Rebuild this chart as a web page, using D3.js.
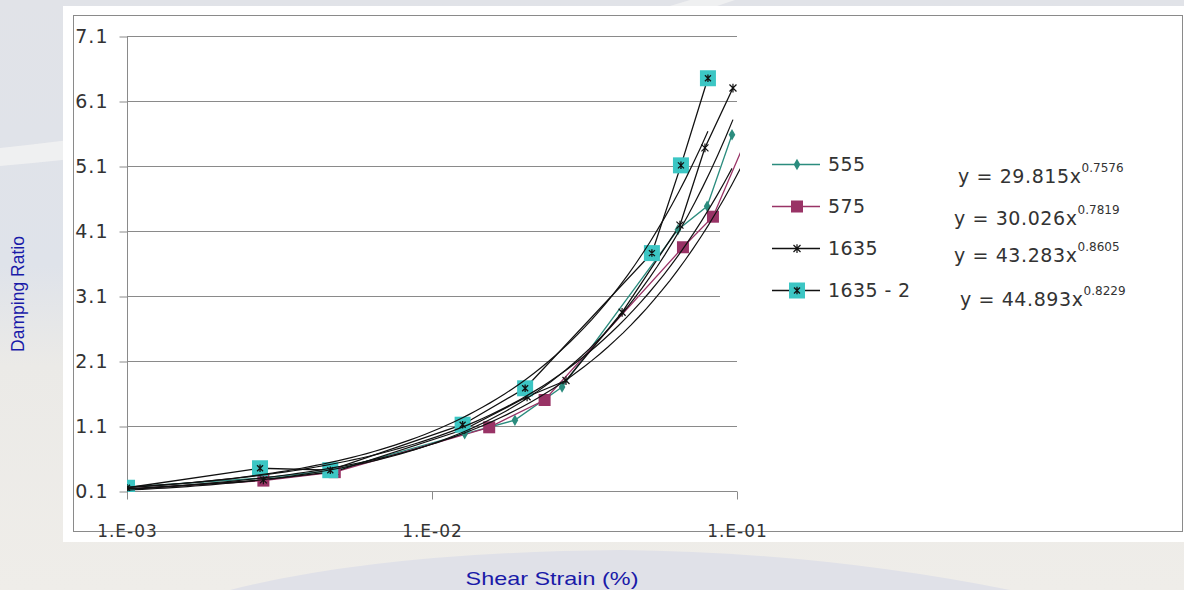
<!DOCTYPE html>
<html>
<head>
<meta charset="utf-8">
<script src="https://cdn.jsdelivr.net/npm/d3@7/dist/d3.min.js"></script>
<style>
  body { margin: 0; overflow: hidden; background: #e4e6eb; }
  svg { display: block; }
  .tick text { font-family: "DejaVu Sans", Verdana, sans-serif; fill: #333; }
</style>
</head>
<body>
<svg id="chart" width="1184" height="590"></svg>
<script>
// --- data (strain in %, damping ratio)
const seriesNames = ["555", "575", "1635", "1635 - 2"];

const strain555 = [0.001, 0.0028, 0.0048, 0.0128, 0.0187, 0.0267, 0.064, 0.0798, 0.0963];
const damp555   = [0.16, 0.30, 0.42, 0.98, 1.19, 1.70, 4.12, 4.48, 5.58];

const strain575 = [0.001, 0.0028, 0.0048, 0.0154, 0.0234, 0.0665, 0.0834, 0.108];
const damp575   = [0.13, 0.26, 0.39, 1.08, 1.50, 3.85, 4.32, 5.55];

const strain1635 = [0.001, 0.0028, 0.0048, 0.0128, 0.0205, 0.0275, 0.042, 0.065, 0.0785, 0.097];
const damp1635   = [0.12, 0.27, 0.40, 1.05, 1.55, 1.80, 2.85, 4.19, 5.38, 6.30];

const strain1635b = [0.001, 0.00273, 0.00464, 0.0126, 0.0202, 0.0526, 0.0655, 0.0803];
const damp1635b   = [0.15, 0.45, 0.42, 1.12, 1.68, 3.76, 5.11, 6.45];

// power trendlines y = a * x^b
const trendA = [29.815, 30.026, 43.283, 44.893];
const trendB = [0.7576, 0.7819, 0.8605, 0.8229];

const yTicks = [0.1, 1.1, 2.1, 3.1, 4.1, 5.1, 6.1, 7.1];
const xTicks = [0.001, 0.01, 0.1];
const xTickLabels = ["1.E-03", "1.E-02", "1.E-01"];

// --- layout
const W = 1184, H = 590;
const svg = d3.select("#chart");

const x = d3.scaleLog().domain([0.001, 0.1]).range([127, 737]);
const y = d3.scaleLinear().domain([0.1, 7.1]).range([491, 36]);

const colors = ["#2b8c7e", "#993366", "#111111", "#111111"];
const fillTurq = "#3cc6c4";

// --- slide background
const defs = svg.append("defs");
const grad = defs.append("linearGradient").attr("id", "bg").attr("x1", 0).attr("y1", 0).attr("x2", 0).attr("y2", 1);
grad.append("stop").attr("offset", "0%").attr("stop-color", "#e1e3e8");
grad.append("stop").attr("offset", "45%").attr("stop-color", "#dfe3ea");
grad.append("stop").attr("offset", "62%").attr("stop-color", "#ebeae7");
grad.append("stop").attr("offset", "100%").attr("stop-color", "#efede9");
svg.append("rect").attr("width", W).attr("height", H).attr("fill", "url(#bg)");
svg.append("path").attr("d", "M0,148 Q300,118 690,0 L735,0 Q330,140 0,166Z").attr("fill", "#f3f3f3").attr("opacity", 0.8);
svg.append("path").attr("d", "M230,590 Q380,552 620,550 Q820,552 1010,590Z").attr("fill", "#e0e1e8");

defs.append("clipPath").attr("id", "plotclip")
  .append("rect").attr("x", 127).attr("y", 20).attr("width", 613).attr("height", 472);

// white chart panel + border
svg.append("rect").attr("x", 63).attr("y", 6).attr("width", 1121).attr("height", 536).attr("fill", "#ffffff");
svg.append("rect").attr("x", 73.5).attr("y", 15.5).attr("width", 1109).attr("height", 516)
  .attr("fill", "none").attr("stroke", "#8a8a8a").attr("stroke-width", 1);

// gridlines
svg.append("g").selectAll("line").data(yTicks.slice(1)).join("line")
  .attr("x1", 127).attr("x2", 737)
  .attr("y1", d => Math.round(y(d)) + 0.5).attr("y2", d => Math.round(y(d)) + 0.5)
  .attr("stroke", "#8a8a8a");

// legend background covers part of the grid
svg.append("rect").attr("x", 720).attr("y", 112).attr("width", 450).attr("height", 222).attr("fill", "#ffffff");

// axes
const yAxis = d3.axisLeft(y).tickValues(yTicks).tickSize(8).tickPadding(11).tickFormat(d3.format(".1f"));
const gy = svg.append("g").attr("transform", "translate(127.5,0)").call(yAxis);
gy.selectAll(".tick line").attr("stroke", "#8a8a8a").attr("transform", "translate(0,0.5)");
gy.select(".domain").attr("stroke", "#8a8a8a").attr("d", "M0,36V499");
gy.selectAll(".tick text").attr("font-size", 19).attr("letter-spacing", 1).attr("dy", "0.36em");

const xAxis = d3.axisBottom(x).tickValues(xTicks).tickSize(8).tickPadding(25).tickFormat((d, i) => xTickLabels[i]);
const gx = svg.append("g").attr("transform", "translate(0,491.5)").call(xAxis);
gx.selectAll(".tick line").attr("stroke", "#8a8a8a");
gx.select(".domain").attr("stroke", "#8a8a8a").attr("d", "M127,0H737");
gx.selectAll(".tick text").attr("font-size", 17).attr("letter-spacing", 1);

// --- series
const seriesData = [
  d3.zip(strain555, damp555),
  d3.zip(strain575, damp575),
  d3.zip(strain1635, damp1635),
  d3.zip(strain1635b, damp1635b)
];

const line = d3.line().x(d => x(d[0])).y(d => y(d[1]));
const plot = svg.append("g").attr("clip-path", "url(#plotclip)");

plot.selectAll("path.series").data(seriesData).join("path")
  .attr("class", "series")
  .attr("d", line)
  .attr("fill", "none")
  .attr("stroke", (d, i) => colors[i])
  .attr("stroke-width", 1.3);

const starPath = s => `M${-s},${-s}L${s},${s}M${-s},${s}L${s},${-s}M0,${-s * 1.25}V${s * 1.25}`;

function drawMarker(g, i) {
  if (i === 0) {
    g.append("path").attr("d", d3.symbol(d3.symbolDiamond, 38)()).attr("fill", colors[0]);
  } else if (i === 1) {
    g.append("rect").attr("x", -6).attr("y", -6).attr("width", 12).attr("height", 12).attr("fill", colors[1]);
  } else if (i === 2) {
    g.append("path").attr("d", starPath(3.5)).attr("stroke", "#111").attr("stroke-width", 1.2).attr("fill", "none");
  } else {
    g.append("rect").attr("x", -8).attr("y", -8).attr("width", 16).attr("height", 16).attr("fill", fillTurq);
    g.append("path").attr("d", starPath(3)).attr("stroke", "#111").attr("stroke-width", 1.3).attr("fill", "none");
  }
}

seriesData.forEach((pts, i) => {
  plot.append("g").selectAll("g").data(pts).join("g")
    .attr("transform", d => `translate(${x(d[0])},${y(d[1])})`)
    .each(function() { drawMarker(d3.select(this), i); });
});

// trendlines over each series' strain range
seriesData.forEach((pts, i) => {
  const [s0, s1] = d3.extent(pts, d => d[0]);
  const tp = d3.range(81).map(k => {
    const s = s0 * Math.pow(s1 / s0, k / 80);
    return [s, trendA[i] * Math.pow(s, trendB[i])];
  });
  plot.append("path").attr("d", line(tp))
    .attr("fill", "none").attr("stroke", "#111").attr("stroke-width", 1.2);
});

// --- legend
const legendY = [164, 206, 248, 290];
const lg = svg.append("g");
seriesNames.forEach((name, i) => {
  const row = lg.append("g").attr("transform", `translate(0,${legendY[i]})`);
  row.append("line").attr("x1", 772).attr("x2", 820).attr("y1", 0.5).attr("y2", 0.5)
    .attr("stroke", i === 3 ? "#111" : colors[i]).attr("stroke-width", 1.3);
  drawMarker(row.append("g").attr("transform", "translate(797,0.5)"), i);
  row.append("text").attr("x", 828).attr("y", 7)
    .attr("font-family", "DejaVu Sans, Verdana, sans-serif").attr("font-size", 19)
    .attr("fill", "#333").attr("letter-spacing", 0.4).text(name);
});

// trendline equations
const eqX = [958, 954, 954, 960];
const eqY = [183, 225, 262, 306];
trendA.forEach((a, i) => {
  const t = svg.append("text").attr("x", eqX[i]).attr("y", eqY[i])
    .attr("font-family", "DejaVu Sans, Verdana, sans-serif").attr("font-size", 19)
    .attr("letter-spacing", 0.6).attr("fill", "#333");
  t.append("tspan").text(`y = ${a.toFixed(3)}x`);
  t.append("tspan").attr("dy", -11).attr("font-size", 12).attr("letter-spacing", 0).text(trendB[i].toFixed(4));
});

// axis titles
svg.append("text").attr("transform", "translate(24,294) rotate(-90)")
  .attr("text-anchor", "middle").attr("font-family", "Liberation Sans, Arial, sans-serif")
  .attr("font-size", 17.5).attr("fill", "#1a1aa8").text("Damping Ratio");
svg.append("text").attr("transform", "translate(552,585) scale(1.3,1)")
  .attr("text-anchor", "middle").attr("font-family", "Liberation Sans, Arial, sans-serif")
  .attr("font-size", 18).attr("fill", "#1a1aa8").text("Shear Strain (%)");
</script>
</body>
</html>
